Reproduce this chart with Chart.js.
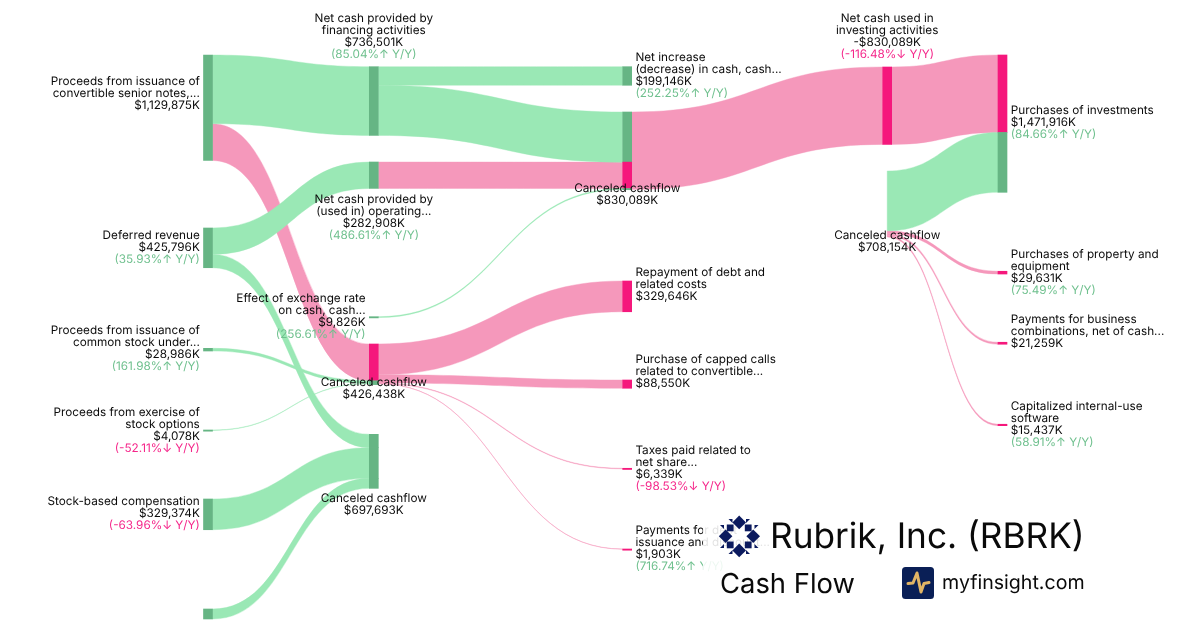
<!DOCTYPE html>
<html>
<head>
<meta charset="utf-8">
<title>Rubrik, Inc. (RBRK) Cash Flow</title>
<script src="https://cdn.jsdelivr.net/npm/chart.js@4"></script>
<style>
  html, body { margin: 0; padding: 0; background: #fff; }
  #wrap { position: relative; width: 1200px; height: 630px; overflow: hidden; font-family: Inter, sans-serif; color: #0a0a0a; text-rendering: geometricPrecision; }
  #sankey { position: absolute; left: 0; top: 0; }
  #veil { position: absolute; left: 703px; top: 512px; width: 497px; height: 118px; background: rgba(255,255,255,0.88); }
  .head { position: absolute; white-space: nowrap; line-height: 1; }
</style>
</head>
<body>
<div id="wrap">
  <canvas id="sankey" width="1200" height="630"></canvas>
  <div id="veil"></div>
  <svg class="head" style="left:715px;top:513px" width="48" height="48" viewBox="715 513 48 48">
    <g fill="#0b1a5e">
      <path d="M739.2 515.6l6.8 6.8-6.8 6.8-6.8-6.8z"/>
      <path d="M739.2 543.6l6.8 6.8-6.8 6.8-6.8-6.8z"/>
      <path d="M725.6 529.5l6.8 6.8-6.8 6.8-6.8-6.8z"/>
      <path d="M753.2 529.5l6.8 6.8-6.8 6.8-6.8-6.8z"/>
      <rect x="726.8" y="524.5" width="6.8" height="6.8"/>
      <rect x="744.8" y="524.5" width="6.8" height="6.8"/>
      <rect x="726.8" y="541.5" width="6.8" height="6.8"/>
      <rect x="744.8" y="541.5" width="6.8" height="6.8"/>
      <path d="M728.5 519h4v4z"/><path d="M720 525h4v4z"/>
      <path d="M750 519h-4v4z"/><path d="M758.5 525h-4v4z"/>
      <path d="M728.5 554h4v-4z"/><path d="M720 548h4v-4z"/>
      <path d="M750 554h-4v-4z"/><path d="M758.5 548h-4v-4z"/>
    </g>
  </svg>
  <div class="head" style="left:770px;top:519px;font-size:35.2px">Rubrik, Inc. (RBRK)</div>
  <div class="head" style="left:720px;top:570px;font-size:27.4px">Cash Flow</div>
  <svg class="head" style="left:902px;top:567px" width="32" height="32" viewBox="902 567 32 32">
    <rect x="902" y="567" width="32" height="32" rx="3.5" fill="#0a1f56"/>
    <polyline points="908,583.5 913,583 917,573 921,592 924,583.5 929,582.5" fill="none" stroke="#e2b565" stroke-width="3" stroke-linejoin="round" stroke-linecap="round"/>
  </svg>
  <div class="head" style="left:942px;top:573px;font-size:19.6px">myfinsight.com</div>
</div>
<script>
// Node data, values in $K
const nodeValues = [1129875, 425796, 28986, 4078, 329374, 107000, 736501, 282908, 9826, 426438, 697693, 199146, 830089, 329646, 88550, 6339, 1903, 830089, 708154, 1471916, 29631, 21259, 15437];
const nodeColumns = [0, 0, 0, 0, 0, 0, 1, 1, 1, 1, 1, 2, 2, 2, 2, 2, 2, 3, 3, 4, 4, 4, 4];
const nodeTops = [589600, 2444160, 3733800, 4609600, 5349280, 6528480, 715000, 1736640, 3395000, 3687680, 4655700, 715000, 1200640, 3012320, 4073600, 5020000, 5885280, 718240, 1833120, 589600, 2908000, 3669000, 4548000];
const hiddenNodes = [18];

// Flows, listed in the order they stack on their nodes
const flowSource = [0, 0, 1, 1, 2, 3, 4, 5, 6, 6, 7, 8, 9, 9, 9, 9, 12, 17, 18, 18, 18, 18];
const flowTarget = [6, 9, 7, 10, 9, 9, 10, 10, 11, 12, 12, 12, 13, 14, 15, 16, 17, 19, 19, 20, 21, 22];
const flowValue = [736501, 393374, 282908, 142888, 28986, 4078, 329374, 107000, 199146, 537355, 282908, 9826, 329646, 88550, 6339, 1903, 830089, 830089, 641827, 29631, 21259, 15437];
const flowNegative = [false, true, false, false, false, false, false, false, false, false, true, false, true, true, true, true, true, true, false, true, true, true];

// Labels
const nodeNames = [
  ['Proceeds from issuance of', 'convertible senior notes,...'], ['Deferred revenue'],
  ['Proceeds from issuance of', 'common stock under...'], ['Proceeds from exercise of', 'stock options'],
  ['Stock-based compensation'], [],
  ['Net cash provided by', 'financing activities'], ['Net cash provided by', '(used in) operating...'],
  ['Effect of exchange rate', 'on cash, cash...'], ['Canceled cashflow'], ['Canceled cashflow'],
  ['Net increase', '(decrease) in cash, cash...'], ['Canceled cashflow'],
  ['Repayment of debt and', 'related costs'], ['Purchase of capped calls', 'related to convertible...'],
  ['Taxes paid related to', 'net share...'], ['Payments for debt', 'issuance and discount...'],
  ['Net cash used in', 'investing activities'], ['Canceled cashflow'], ['Purchases of investments'],
  ['Purchases of property and', 'equipment'], ['Payments for business', 'combinations, net of cash...'],
  ['Capitalized internal-use', 'software']
];
const nodeAmounts = ['$1,129,875K', '$425,796K', '$28,986K', '$4,078K', '$329,374K', '', '$736,501K', '$282,908K', '$9,826K', '$426,438K', '$697,693K', '$199,146K', '$830,089K', '$329,646K', '$88,550K', '$6,339K', '$1,903K', '-$830,089K', '$708,154K', '$1,471,916K', '$29,631K', '$21,259K', '$15,437K'];
const nodeChanges = ['', '(35.93%↑ Y/Y)', '(161.98%↑ Y/Y)', '(-52.11%↓ Y/Y)', '(-63.96%↓ Y/Y)', '', '(85.04%↑ Y/Y)', '(486.61%↑ Y/Y)', '(256.61%↑ Y/Y)', '', '', '(252.25%↑ Y/Y)', '', '', '', '(-98.53%↓ Y/Y)', '(716.74%↑ Y/Y)', '(-116.48%↓ Y/Y)', '', '(84.66%↑ Y/Y)', '(75.49%↑ Y/Y)', '', '(58.91%↑ Y/Y)'];

// Layout of the picture
const columnX = [208, 373.8, 627.2, 887.2, 1002.5];
const labelAligns = ['right', 'right', 'right', 'right', 'right', 'right', 'center', 'center', 'right', 'center', 'center', 'left', 'center', 'left', 'left', 'left', 'left', 'center', 'center', 'left', 'left', 'left', 'left'];
const labelFirstLine = [81, 235, 330, 412, 501, 0, 18, 199, 298, 382, 498, 57, 188, 272, 359, 450, 530, 18, 235, 110, 254, 319, 406];
const barWidth = 9;
const lineHeight = 12;
const labelGap = 3.7;
const kPerPixel = 10720;

const colors = {
  flowUp: '#9ae8b5', flowDown: '#f598bb',
  barUp: '#66b584', barDown: '#f5187c',
  textUp: '#6fc08e', textDown: '#f5268a', text: '#0a0a0a'
};

// walk the flows once so each one knows where it sits on its two nodes
function buildLinks(){
  const outUsed = nodeValues.map(() => 0);
  const inUsed = nodeValues.map(() => 0);
  return flowValue.map((value, i) => {
    const s = flowSource[i], t = flowTarget[i];
    const link = { s, t, value, negative: flowNegative[i], y0: nodeTops[s] + outUsed[s], y1: nodeTops[t] + inUsed[t] };
    outUsed[s] += value;
    inUsed[t] += value;
    return link;
  });
}

const links = buildLinks();

// one bar piece per incoming flow, start nodes get one whole bar
function buildSegments(){
  const segments = [];
  nodeValues.forEach((value, n) => {
    if(hiddenNodes.includes(n)) return;
    const incoming = links.filter(l => l.t === n);
    const x = columnX[nodeColumns[n]];
    if(incoming.length === 0){
      const width = flowValue.filter((v, i) => flowSource[i] === n).reduce((a, b) => a + b, 0);
      segments.push({ x, y: [nodeTops[n], nodeTops[n] + width], negative: false });
    } else {
      incoming.forEach(l => segments.push({ x, y: [l.y1, l.y1 + l.value], negative: l.negative }));
    }
  });
  return segments;
}

const segments = buildSegments();

const flowPlugin = {
  id: 'flowPlugin',
  beforeDatasetsDraw(chart){
    const { ctx, scales: { x, y } } = chart;
    // pink first, green crosses over it
    const ordered = links.filter(l => l.negative).concat(links.filter(l => !l.negative));
    ordered.forEach(l => {
      const sourceInset = hiddenNodes.includes(l.s) ? 0 : barWidth / 2;
      const x0 = x.getPixelForValue(columnX[nodeColumns[l.s]]) + sourceInset;
      const x1 = x.getPixelForValue(columnX[nodeColumns[l.t]]) - barWidth / 2;
      const mid = (x0 + x1) / 2;
      const a0 = y.getPixelForValue(l.y0), a1 = y.getPixelForValue(l.y0 + l.value);
      const b0 = y.getPixelForValue(l.y1), b1 = y.getPixelForValue(l.y1 + l.value);
      ctx.beginPath();
      ctx.moveTo(x0, a0);
      ctx.bezierCurveTo(mid, a0, mid, b0, x1, b0);
      ctx.lineTo(x1, b1);
      ctx.bezierCurveTo(mid, b1, mid, a1, x0, a1);
      ctx.closePath();
      ctx.fillStyle = l.negative ? colors.flowDown : colors.flowUp;
      ctx.fill();
      // hairline so the smallest flows stay visible
      ctx.strokeStyle = ctx.fillStyle;
      ctx.lineWidth = 0.4;
      ctx.stroke();
    });
  }
};

const labelPlugin = {
  id: 'labelPlugin',
  afterDatasetsDraw(chart){
    const { ctx, scales: { x } } = chart;
    ctx.save();
    ctx.font = '11.75px Inter, sans-serif';
    ctx.textRendering = 'geometricPrecision';
    ctx.textBaseline = 'middle';
    nodeNames.forEach((name, n) => {
      if(nodeAmounts[n] === '') return;
      const align = labelAligns[n];
      let px = x.getPixelForValue(columnX[nodeColumns[n]]);
      if(align === 'right') px -= barWidth / 2 + labelGap;
      if(align === 'left') px += barWidth / 2 + labelGap;
      ctx.textAlign = align;
      let py = labelFirstLine[n];
      name.concat(nodeAmounts[n]).forEach(line => {
        ctx.fillStyle = colors.text;
        ctx.fillText(line, px, py);
        py += lineHeight;
      });
      if(nodeChanges[n]){
        ctx.fillStyle = nodeChanges[n].includes('↓') ? colors.textDown : colors.textUp;
        ctx.fillText(nodeChanges[n], px, py);
      }
    });
    ctx.restore();
  }
};

new Chart(document.getElementById('sankey'), {
  type: 'bar',
  data: {
    datasets: [{
      label: 'Nodes',
      data: segments,
      barThickness: barWidth,
      minBarLength: 1.2,
      backgroundColor: segments.map(s => s.negative ? colors.barDown : colors.barUp)
    }]
  },
  options: {
    responsive: false,
    animation: false,
    layout: { padding: 0 },
    plugins: { legend: { display: false }, tooltip: { enabled: false } },
    scales: {
      x: { type: 'linear', display: false, min: 0, max: 1200, offset: false },
      y: { type: 'linear', display: false, min: 0, max: 630 * kPerPixel, reverse: true }
    }
  },
  plugins: [flowPlugin, labelPlugin]
});
</script>
</body>
</html>
